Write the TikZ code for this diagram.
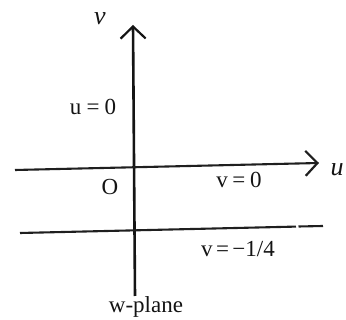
\documentclass[tikz,border=0pt]{standalone}
\usepackage{fontspec}
\setmainfont{Liberation Serif}
\usetikzlibrary{arrows.meta}
\begin{document}
\begin{tikzpicture}[x=1pt,y=-1pt,
  axisline/.style={line width=2.6pt, draw=black!92},
  plainline/.style={line width=2.1pt, draw=black!88},
  chev/.style={-{Straight Barb[length=12pt,width=25pt,line width=2.2pt]}},
  lbl/.style={inner sep=0pt, anchor=base, font=\fontsize{23}{27}\selectfont, text=black!92},
  axlbl/.style={lbl, font=\fontsize{26}{30}\selectfont\itshape}]
\useasboundingbox[fill=white] (0,0) rectangle (346,320);
% coordinates
\coordinate (vbot) at (135,296);
\coordinate (vtop) at (133,25);
\coordinate (hleft) at (15,170);
\coordinate (hright) at (319,163);
\coordinate (lleft) at (20,233);
\coordinate (lgapa) at (296,226.6);
\coordinate (lgapb) at (298.5,226.5);
\coordinate (lright) at (323,226);
% axes
\draw[axisline, chev] (vbot) -- (vtop);
\draw[plainline, chev] (hleft) -- (hright);
\draw[plainline] (lleft) -- (lgapa);
\draw[plainline] (lgapb) -- (lright);
% labels
\node[axlbl] (lv) at (100,25) {v};
\node[axlbl] (lu) at (337,176) {u};
\node[lbl] (u0) at (93,115) {u\hspace{0.22em}=\hspace{0.22em}0};
\node[lbl] (O) at (110,194.5) {O};
\node[lbl] (v0) at (239,188) {v\hspace{0.2em}=\hspace{0.2em}0};
\node[lbl] (vq) at (238,256.5) {v\hspace{0.15em}=\hspace{0.15em}−1/4};
\node[lbl] (wp) at (146,313) {w-plane};
\end{tikzpicture}
\end{document}
